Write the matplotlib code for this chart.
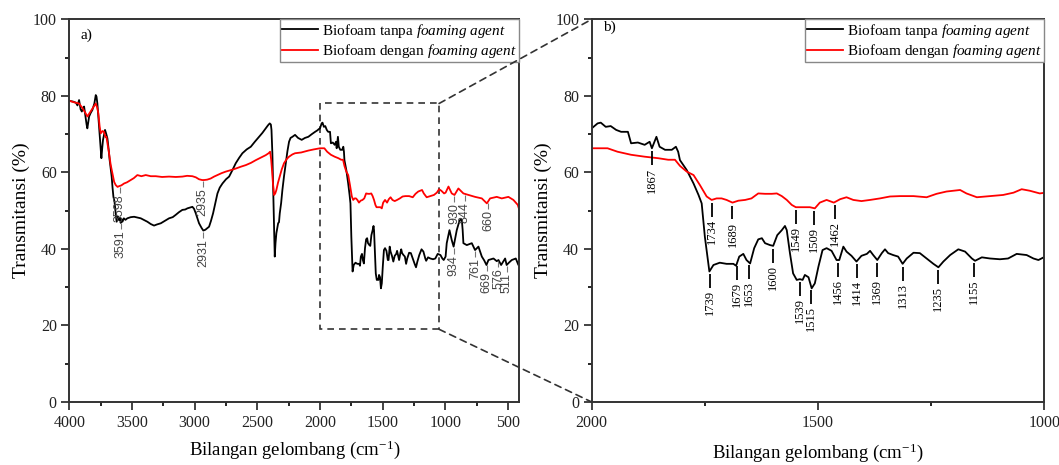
import matplotlib
matplotlib.use('Agg')
import matplotlib.pyplot as plt
from matplotlib.patches import Rectangle, ConnectionPatch
from matplotlib.ticker import MultipleLocator
import numpy as np

plt.rcParams['font.family'] = ['Liberation Serif', 'DejaVu Serif']
plt.rcParams['mathtext.fontset'] = 'custom'
plt.rcParams['mathtext.rm'] = 'Liberation Serif'
plt.rcParams['mathtext.it'] = 'Liberation Serif:italic'

# ---------------- data ----------------
wn_black = [4000, 3970, 3947, 3935, 3922, 3910, 3900, 3890, 3882, 3875, 3869, 3862, 3856, 3849, 3842,
            3830, 3816, 3800, 3789, 3783, 3776, 3766, 3757, 3750, 3744, 3737, 3731, 3722, 3715, 3705,
            3696, 3686, 3678, 3670, 3662, 3655, 3648, 3640, 3635, 3628, 3622, 3612, 3603, 3595, 3590,
            3583, 3576, 3565, 3552, 3537, 3510, 3483, 3455, 3430, 3400, 3377, 3350, 3324, 3300, 3270,
            3240, 3204, 3175, 3151, 3125, 3098, 3075, 3058, 3038, 3018, 3005, 2991, 2978, 2965, 2945,
            2931, 2915, 2900, 2885, 2870, 2853, 2835, 2818, 2800, 2778, 2750, 2725, 2700, 2672, 2645,
            2619, 2585, 2552, 2520, 2486, 2460, 2433, 2415, 2401, 2392, 2387, 2380, 2374, 2367, 2361,
            2355, 2348, 2340, 2334, 2327, 2321, 2310, 2300, 2287, 2273, 2260, 2247, 2235, 2220, 2199,
            2175, 2146, 2120, 2093, 2065, 2039, 2020, 2010, 2000, 1987, 1980, 1969, 1958, 1946, 1935,
            1920, 1913, 1898, 1883, 1872, 1867, 1857, 1850, 1838, 1823, 1814, 1809, 1805, 1790, 1775,
            1764, 1757, 1750, 1740, 1731, 1717, 1702, 1687, 1681, 1674, 1665, 1658, 1650, 1641, 1632,
            1624, 1617, 1606, 1599, 1590, 1580, 1573, 1569, 1562, 1555, 1547, 1540, 1534, 1529, 1521,
            1514, 1507, 1499, 1490, 1481, 1470, 1459, 1453, 1444, 1437, 1426, 1415, 1404, 1392, 1385,
            1378, 1369, 1359, 1352, 1345, 1334, 1323, 1313, 1304, 1289, 1275, 1260, 1245, 1234, 1223,
            1208, 1190, 1175, 1160, 1153, 1138, 1120, 1098, 1080, 1061, 1039, 1024, 1013, 998, 989,
            967, 949, 934, 920, 909, 895, 882, 869, 862, 856, 829, 789, 763, 736, 709,
            690, 672, 656, 616, 590, 576, 555, 523, 511, 490, 470, 438, 417, 410]
t_black = [78.7, 78.5, 78.2, 77.5, 78.9, 76.5, 75.9, 76.8, 77.2, 75.5, 74.1, 72.5, 71.5, 73.0, 74.6,
           75.5, 76.3, 78.0, 80.2, 79.8, 78.0, 73.5, 69.3, 66.0, 63.7, 66.5, 68.5, 70.0, 71.1, 70.0,
           68.9, 66.0, 63.2, 61.0, 58.9, 56.0, 53.6, 52.5, 51.0, 48.5, 47.1, 48.5, 47.5, 48.2, 46.8,
           47.8, 47.1, 48.0, 47.6, 48.0, 48.3, 48.4, 48.2, 48.0, 47.5, 47.1, 46.5, 46.1, 46.4, 46.7,
           47.3, 48.0, 48.3, 48.9, 49.6, 50.2, 50.3, 50.6, 50.8, 51.0, 50.5, 49.3, 48.0, 46.7, 45.5,
           44.8, 45.0, 45.4, 45.8, 47.3, 49.3, 52.0, 54.5, 56.0, 57.1, 58.2, 58.9, 60.5, 62.4, 63.8,
           65.0, 66.0, 66.7, 68.0, 69.3, 70.3, 71.5, 72.3, 72.8, 72.5, 71.1, 65.0, 56.3, 45.0, 38.0,
           41.5, 44.1, 45.5, 46.7, 47.0, 49.3, 52.0, 55.4, 59.0, 62.4, 65.5, 68.0, 69.0, 69.3, 69.8,
           69.0, 68.5, 69.0, 69.3, 70.0, 70.6, 71.0, 71.3, 71.5, 72.8, 73.0, 71.9, 72.1, 71.1, 70.6,
           70.6, 67.6, 67.8, 67.2, 68.0, 66.3, 69.3, 66.7, 65.9, 65.9, 66.7, 65.4, 63.2, 60.6, 57.1,
           54.1, 51.9, 43.2, 34.1, 35.8, 36.4, 36.1, 36.1, 35.6, 38.0, 38.7, 37.1, 36.2, 40.2, 42.5,
           42.8, 41.5, 41.0, 40.8, 43.6, 44.9, 46.0, 44.9, 38.9, 33.6, 31.9, 32.1, 31.9, 33.2, 32.6,
           29.7, 31.0, 35.4, 39.7, 40.2, 39.5, 37.1, 37.1, 40.6, 39.3, 38.2, 36.7, 38.2, 38.7, 39.5,
           38.4, 37.1, 38.9, 39.9, 38.9, 38.4, 38.0, 36.1, 37.5, 39.0, 38.9, 37.5, 36.1, 35.2, 36.7,
           38.4, 39.9, 39.3, 37.5, 36.9, 37.8, 37.5, 37.3, 37.5, 38.7, 38.4, 37.5, 37.1, 38.0, 41.5,
           44.9, 42.3, 40.6, 43.0, 44.9, 46.5, 47.6, 47.7, 45.0, 41.5, 41.0, 41.5, 39.7, 40.6, 38.0,
           37.0, 35.8, 37.1, 37.5, 36.8, 37.1, 35.8, 37.5, 35.8, 36.5, 37.1, 37.5, 35.8, 36.7]

wn_red = [4000, 3960, 3922, 3895, 3869, 3856, 3842, 3829, 3805, 3789, 3778, 3768, 3758, 3749, 3735,
          3723, 3712, 3704, 3695, 3683, 3670, 3656, 3642, 3630, 3615, 3603, 3585, 3563, 3540, 3510,
          3485, 3457, 3425, 3390, 3350, 3310, 3260, 3204, 3150, 3098, 3060, 3018, 2990, 2965, 2940,
          2925, 2900, 2872, 2845, 2818, 2785, 2752, 2710, 2672, 2630, 2592, 2550, 2512, 2470, 2433,
          2410, 2398, 2390, 2385, 2375, 2366, 2357, 2348, 2335, 2321, 2305, 2287, 2265, 2247, 2220,
          2199, 2150, 2093, 2050, 2000, 1965, 1943, 1913, 1883, 1853, 1831, 1816, 1805, 1790, 1775,
          1761, 1746, 1735, 1724, 1713, 1702, 1689, 1676, 1661, 1647, 1632, 1617, 1602, 1591, 1580,
          1569, 1558, 1549, 1533, 1518, 1507, 1496, 1481, 1465, 1451, 1437, 1422, 1404, 1385, 1363,
          1341, 1319, 1289, 1260, 1238, 1216, 1186, 1172, 1149, 1120, 1091, 1068, 1050, 1032, 1010,
          998, 975, 949, 927, 896, 856, 816, 763, 709, 669, 643, 590, 550, 497, 457,
          422, 410]
t_red = [78.7, 78.3, 78.0, 76.8, 75.4, 74.6, 75.3, 75.9, 77.2, 78.0, 77.0, 75.4, 72.0, 70.2, 70.8,
         70.6, 69.3, 69.3, 67.5, 65.0, 62.0, 59.8, 57.5, 56.7, 56.2, 56.4, 56.6, 57.1, 57.4, 58.0,
         58.5, 59.3, 59.0, 59.3, 59.0, 59.0, 58.8, 58.9, 58.8, 58.9, 59.1, 59.0, 58.7, 58.2, 58.0,
         58.0, 58.1, 58.4, 58.9, 59.3, 59.8, 60.2, 60.6, 61.0, 61.5, 61.9, 62.5, 63.2, 63.9, 64.5,
         65.0, 65.4, 63.5, 61.5, 57.0, 54.1, 54.5, 55.4, 57.3, 58.9, 60.8, 62.4, 63.5, 64.1, 64.7,
         65.0, 65.2, 65.7, 66.0, 66.3, 66.3, 65.4, 64.6, 64.1, 63.7, 63.3, 63.3, 61.7, 60.2, 59.3,
         56.7, 53.7, 52.8, 53.2, 53.2, 52.8, 52.1, 52.6, 52.8, 53.2, 54.5, 54.4, 54.4, 54.5, 53.8,
         52.8, 51.5, 50.9, 50.9, 50.9, 50.6, 52.1, 52.8, 52.1, 53.0, 53.5, 52.8, 52.5, 52.8, 53.2,
         53.7, 53.8, 53.8, 53.5, 54.4, 55.0, 55.4, 54.5, 53.5, 53.8, 54.1, 54.7, 55.6, 55.2, 54.5,
         54.7, 56.3, 54.5, 54.1, 55.8, 54.5, 54.1, 53.6, 53.2, 51.9, 53.2, 53.6, 53.2, 53.6, 52.8,
         51.5, 50.2]

label_black = 'Biofoam tanpa $\\mathit{foaming\\ agent}$'
label_red = 'Biofoam dengan $\\mathit{foaming\\ agent}$'

peaks_a_red = [3598, 2935, 930, 844, 660]
peaks_a_black = [3591, 2931, 934, 761, 669, 576, 511]
peaks_b_red = [1734, 1689, 1549, 1509, 1462]
peaks_b_black = [1867, 1739, 1679, 1653, 1600, 1539, 1515, 1456, 1414, 1369, 1313, 1235, 1155]

# ---------------- figure ----------------
fig = plt.figure(figsize=(10.59, 4.65), dpi=100)
ax1 = fig.add_axes([69.3 / 1059, 63.0 / 465, 450.0 / 1059, 382.7 / 465])
ax2 = fig.add_axes([591.7 / 1059, 63.0 / 465, 452.6 / 1059, 382.7 / 465])

wb = np.array(wn_black, float)
tb = np.array(t_black, float)
wr = np.array(wn_red, float)
tr = np.array(t_red, float)


def curve_at(w, ws, ts):
    return np.interp(w, ws[::-1], ts[::-1])


for ax in (ax1, ax2):
    ax.plot(wb, tb, color='black', lw=1.3, label=label_black)
    ax.plot(wr, tr, color='#ff0000', lw=1.3, label=label_red)
    ax.set_ylim(0, 100)
    ax.yaxis.set_major_locator(MultipleLocator(20))
    ax.yaxis.set_minor_locator(MultipleLocator(10))
    ax.xaxis.set_major_locator(MultipleLocator(500))
    ax.xaxis.set_minor_locator(MultipleLocator(250))
    ax.tick_params(which='major', length=6, width=1.2, labelsize=11.5, pad=3, colors='#222222')
    ax.tick_params(which='minor', length=3, width=1.2)
    for sp in ax.spines.values():
        sp.set_linewidth(1.4)
        sp.set_color('#333333')
    ax.set_ylabel('Transmitansi (%)', fontsize=14, labelpad=2)
    leg = ax.legend(loc='upper right', borderaxespad=0, fancybox=False, edgecolor='#888888',
                    framealpha=1, handlelength=2.3, handletextpad=0.3, borderpad=0.15,
                    labelspacing=0.15, fontsize=11.0)
    leg.get_frame().set_linewidth(1.0)

ax1.set_xlim(4000, 410)
ax2.set_xlim(2000, 1000)
ax1.set_xlabel('Bilangan gelombang (cm$^{-1}$)', fontsize=13.5, labelpad=6)
ax2.set_xlabel('Bilangan gelombang (cm$^{-1}$)', fontsize=13.5, labelpad=8)

ax1.text(0.025, 0.958, 'a)', transform=ax1.transAxes, fontsize=11, va='center', ha='left')
ax2.text(0.025, 0.978, 'b)', transform=ax2.transAxes, fontsize=11, va='center', ha='left')

# ---------------- peak labels ----------------
def peak_labels(ax, peaks, ws, ts, gap, line, tgap, color, lcolor, family, size, lw):
    for p in peaks:
        y = curve_at(p, ws, ts)
        ax.plot([p, p], [y - gap, y - gap - line], color=lcolor, lw=lw, solid_capstyle='butt')
        ax.text(p, y - gap - line - tgap, str(p), rotation=90, ha='center', va='top',
                color=color, fontsize=size, family=family)


peak_labels(ax1, peaks_a_red, wr, tr, 0.3, 1.6, 0.3, '#444444', '#777777', 'Liberation Sans', 9, 0.8)
peak_labels(ax1, peaks_a_black, wb, tb, 0.3, 1.6, 0.3, '#444444', '#777777', 'Liberation Sans', 9, 0.8)
peak_labels(ax2, peaks_b_red, wr, tr, 0.8, 3.6, 0.6, 'black', 'black', 'Liberation Serif', 9, 1.3)
peak_labels(ax2, peaks_b_black, wb, tb, 0.8, 3.6, 0.6, 'black', 'black', 'Liberation Serif', 9, 1.3)

# ---------------- zoom box and connectors ----------------
zoom_x = (1050, 2000)
zoom_y = (19, 78)
ax1.add_patch(Rectangle((zoom_x[0], zoom_y[0]), zoom_x[1] - zoom_x[0], zoom_y[1] - zoom_y[0],
                        fill=False, ls=(0, (4, 3)), lw=1.2, ec='#333333'))
for yv, ya in ((zoom_y[1], 1), (zoom_y[0], 0)):
    con = ConnectionPatch(xyA=(zoom_x[0], yv), coordsA=ax1.transData,
                          xyB=(0, ya), coordsB=ax2.transAxes,
                          ls=(0, (4, 3)), lw=1.2, color='#333333')
    fig.add_artist(con)

fig.savefig('out.png', dpi=100)
